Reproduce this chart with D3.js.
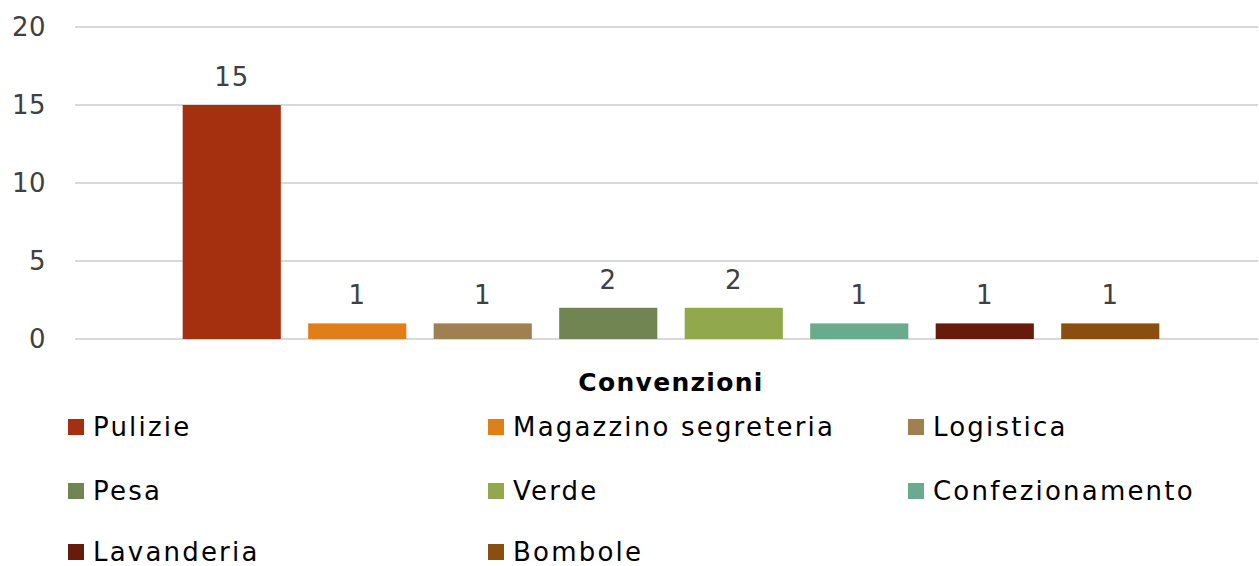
<!DOCTYPE html>
<html>
<head>
<meta charset="utf-8">
<script src="https://cdn.jsdelivr.net/npm/d3@7"></script>
<style>
  body { margin: 0; background: #fff; }
  text { font-family: "DejaVu Sans", sans-serif; }
</style>
</head>
<body>
<script>
// data
var series = ["Pulizie", "Magazzino segreteria", "Logistica", "Pesa", "Verde", "Confezionamento", "Lavanderia", "Bombole"];
var values = [15, 1, 1, 2, 2, 1, 1, 1];
var colors = ["#A5300F", "#E07E1A", "#A08050", "#718553", "#91A84C", "#6AAB90", "#661B0C", "#8A4E10"];
var yTicks = [0, 5, 10, 15, 20];
var axisTitle = "Convenzioni";

var width = 1259, height = 566;
var plot = {left: 75, right: 1258, top: 27, bottom: 339};

var svg = d3.select("body").append("svg")
    .attr("width", width)
    .attr("height", height);

// scales
var y = d3.scaleLinear().domain([0, 20]).range([plot.bottom, plot.top]);
var x = d3.scaleBand().domain(series)
    .range([plot.left + 4, plot.right + 5])
    .paddingInner(0.218)
    .paddingOuter(0.826);

// gridlines
svg.append("g").selectAll("line")
    .data(yTicks)
  .enter().append("line")
    .attr("x1", plot.left)
    .attr("x2", plot.right)
    .attr("y1", function(d) { return y(d); })
    .attr("y2", function(d) { return y(d); })
    .attr("stroke", "#d9d9d9")
    .attr("stroke-width", 2);

// y axis labels
var yAxis = svg.append("g")
    .attr("transform", "translate(46,0)")
    .call(d3.axisLeft(y).tickValues(yTicks).tickSize(0).tickPadding(0));
yAxis.select(".domain").remove();
yAxis.selectAll("text")
    .attr("font-size", 26)
    .attr("fill", "#404040")
    .style("font-family", "'DejaVu Sans', sans-serif")
    .style("letter-spacing", "0.5px");

// bars
svg.append("g").selectAll("rect")
    .data(series)
  .enter().append("rect")
    .attr("x", function(d) { return x(d); })
    .attr("width", x.bandwidth())
    .attr("y", function(d, i) { return y(values[i]); })
    .attr("height", function(d, i) { return y(0) - y(values[i]); })
    .attr("fill", function(d, i) { return colors[i]; });

// value labels
svg.append("g").selectAll("text")
    .data(series)
  .enter().append("text")
    .attr("x", function(d) { return x(d) + x.bandwidth() / 2; })
    .attr("y", function(d, i) { return y(values[i]) - 19; })
    .attr("text-anchor", "middle")
    .attr("font-size", 26)
    .attr("fill", "#404040")
    .style("letter-spacing", "1px")
    .text(function(d, i) { return values[i]; });

// axis title
svg.append("text")
    .attr("x", 671)
    .attr("y", 391)
    .attr("text-anchor", "middle")
    .attr("font-size", 25)
    .attr("font-weight", "bold")
    .attr("fill", "#000")
    .style("letter-spacing", "1.3px")
    .text(axisTitle);

// legend
var colX = [68, 488, 908];
var rowY = [427, 491, 552];
var legend = svg.append("g").selectAll("g")
    .data(series)
  .enter().append("g")
    .attr("transform", function(d, i) {
      return "translate(" + colX[i % 3] + "," + rowY[Math.floor(i / 3)] + ")";
    });
legend.append("rect")
    .attr("x", 0)
    .attr("y", -8)
    .attr("width", 16)
    .attr("height", 16)
    .attr("fill", function(d, i) { return colors[i]; });
legend.append("text")
    .attr("x", 25)
    .attr("y", 0)
    .attr("dy", "0.36em")
    .attr("font-size", 26)
    .attr("fill", "#000")
    .style("letter-spacing", "2.2px")
    .text(function(d) { return d; });
</script>
</body>
</html>
